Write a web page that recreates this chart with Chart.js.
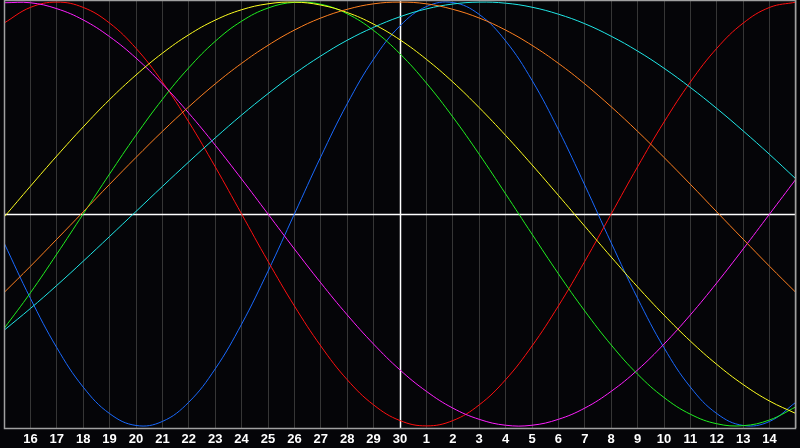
<!DOCTYPE html>
<html>
<head>
<meta charset="utf-8">
<script src="https://cdn.jsdelivr.net/npm/chart.js@4.4.1/dist/chart.umd.min.js"></script>
<style>
  html, body { margin: 0; padding: 0; background: #050508; overflow: hidden; }
</style>
</head>
<body>
<canvas id="myChart" width="800" height="448"></canvas>
<script>
// x positions 0..30, one per day (15th to 15th)
const dayIndex = [0, 1, 2, 3, 4, 5, 6, 7, 8, 9, 10, 11, 12, 13, 14, 15, 16, 17, 18, 19, 20, 21, 22, 23, 24, 25, 26, 27, 28, 29, 30];
// labels under the axis, edge days not printed
const dayLabels = ["", "16", "17", "18", "19", "20", "21", "22", "23", "24", "25", "26", "27", "28", "29", "30",
  "1", "2", "3", "4", "5", "6", "7", "8", "9", "10", "11", "12", "13", "14", ""];

// curve values in percent
const physical = [-13.6, -39.8, -63.1, -81.7, -94.2, -99.8, -97.9, -88.8, -73.1, -52.0, -27.0, 0, 27.0, 52.0, 73.1, 88.8,
  97.9, 99.8, 94.2, 81.7, 63.1, 39.8, 13.6, -13.6, -39.8, -63.1, -81.7, -94.2, -99.8, -97.9, -88.8];
const emotional = [90.1, 97.5, 100, 97.5, 90.1, 78.2, 62.3, 43.4, 22.3, 0, -22.3, -43.4, -62.3, -78.2, -90.1, -97.5,
  -100, -97.5, -90.1, -78.2, -62.3, -43.4, -22.3, 0, 22.3, 43.4, 62.3, 78.2, 90.1, 97.5, 100];
const intellectual = [-54.1, -37.2, -18.9, 0, 18.9, 37.2, 54.1, 69.0, 81.5, 91.0, 97.2, 99.9, 99.0, 94.5, 86.6, 75.6,
  61.8, 45.8, 28.2, 9.5, -9.5, -28.2, -45.8, -61.8, -75.6, -86.6, -94.5, -99.0, -99.9, -97.2, -91.0];
const intuitive = [99.7, 99.7, 96.9, 91.6, 83.7, 73.6, 61.4, 47.6, 32.5, 16.5, 0, -16.5, -32.5, -47.6, -61.4, -73.6,
  -83.7, -91.6, -96.9, -99.7, -99.7, -96.9, -91.6, -83.7, -73.6, -61.4, -47.6, -32.5, -16.5, 0, 16.5];
const aesthetic = [-1.5, 13.1, 27.4, 41.1, 54.0, 65.6, 75.9, 84.6, 91.5, 96.4, 99.2, 100, 98.6, 95.1, 89.6, 82.2,
  73.0, 62.3, 50.2, 37.1, 23.2, 8.8, -5.8, -20.3, -34.4, -47.7, -60.0, -71.0, -80.5, -88.3, -94.2];
const awareness = [-37.1, -24.7, -11.9, 1.0, 14.0, 26.7, 39.0, 50.6, 61.4, 71.1, 79.6, 86.8, 92.5, 96.6, 99.2, 100,
  99.2, 96.6, 92.5, 86.8, 79.6, 71.1, 61.4, 50.6, 39.0, 26.7, 14.0, 1.0, -11.9, -24.7, -37.1];
const spiritual = [-54.9, -44.6, -33.7, -22.3, -10.6, 1.2, 13.0, 24.6, 35.9, 46.7, 56.8, 66.2, 74.6, 82.0, 88.1, 93.1,
  96.8, 99.1, 100, 99.5, 97.6, 94.3, 89.8, 83.9, 76.9, 68.8, 59.7, 49.8, 39.2, 28.1, 16.5];

const TODAY = 15;

function line(values, color) {
  return {
    data: values.map((v, i) => ({ x: dayIndex[i], y: v })),
    borderColor: color,
    borderWidth: 1,
    pointRadius: 0,
    fill: false,
    tension: 0.4,
  };
}

// white cross at zero / today, grey frame round the plot
const frameLines = {
  id: "frameLines",
  beforeDatasetsDraw(chart) {
    const { ctx, chartArea, scales } = chart;
    const y0 = Math.round(scales.y.getPixelForValue(0)) + 0.5;
    const xt = Math.round(scales.x.getPixelForValue(TODAY)) + 0.5;
    ctx.save();
    ctx.strokeStyle = "#ffffff";
    ctx.lineWidth = 1.5;
    ctx.beginPath();
    ctx.moveTo(chartArea.left, y0);
    ctx.lineTo(chartArea.right, y0);
    ctx.moveTo(xt, chartArea.top);
    ctx.lineTo(xt, chartArea.bottom);
    ctx.stroke();
    ctx.restore();
  },
  afterDraw(chart) {
    const { ctx, chartArea } = chart;
    ctx.save();
    ctx.strokeStyle = "#a0a0a0";
    ctx.lineWidth = 1.5;
    ctx.strokeRect(chartArea.left + 0.5, chartArea.top + 0.5,
      chartArea.right - chartArea.left - 1, chartArea.bottom - chartArea.top);
    ctx.restore();
  },
};

new Chart(document.getElementById("myChart"), {
  type: "line",
  data: {
    datasets: [
      line(awareness, "#ff8020"),
      line(spiritual, "#20e8e8"),
      line(aesthetic, "#ffff20"),
      line(intellectual, "#20f020"),
      line(intuitive, "#ff20ff"),
      line(emotional, "#ff1010"),
      line(physical, "#1a6aff"),
    ],
  },
  options: {
    responsive: false,
    animation: false,
    layout: { padding: 0 },
    plugins: {
      legend: { display: false },
      tooltip: { enabled: false },
    },
    scales: {
      x: {
        type: "linear",
        min: 0,
        max: 30,
        afterFit: (scale) => { scale.height = 20; },
        grid: { color: "#363636", lineWidth: 1, drawTicks: false },
        border: { display: false },
        ticks: {
          stepSize: 1,
          autoSkip: false,
          maxRotation: 0,
          padding: 4,
          color: "#ffffff",
          font: { family: "Liberation Sans", size: 13, weight: "bold" },
          callback: (v) => dayLabels[v],
        },
      },
      y: {
        display: false,
        min: -101,
        max: 101,
      },
    },
  },
  plugins: [frameLines],
});
</script>
</body>
</html>
